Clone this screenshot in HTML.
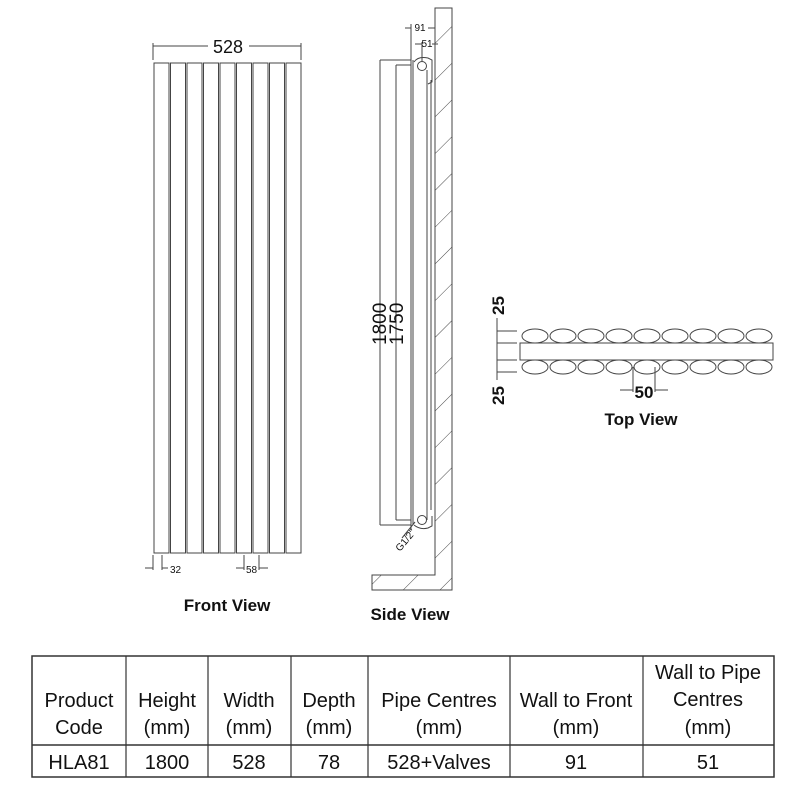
<!DOCTYPE html>
<html><head><meta charset="utf-8"><style>html,body{margin:0;padding:0;background:#fff}svg{display:block}</style></head>
<body>
<svg width="800" height="800" viewBox="0 0 800 800" xmlns="http://www.w3.org/2000/svg" font-family="Liberation Sans, Arial, sans-serif">
<defs>
<pattern id="h" width="26" height="26" patternUnits="userSpaceOnUse" patternTransform="rotate(45)">
<line x1="0" y1="0" x2="0" y2="26" stroke="#333" stroke-width="0.9"/>
</pattern>
</defs>
<g fill="none" stroke="#444" stroke-width="1">
<!-- Front view -->
<line x1="153" y1="43" x2="153" y2="60"/><line x1="301" y1="43" x2="301" y2="60"/>
<line x1="153" y1="46" x2="208" y2="46"/><line x1="249" y1="46" x2="301" y2="46"/>
<g>
<rect x="154" y="63" width="15" height="490" fill="#fff"/>
<rect x="170.5" y="63" width="15" height="490" fill="#fff"/>
<rect x="187" y="63" width="15" height="490" fill="#fff"/>
<rect x="203.5" y="63" width="15" height="490" fill="#fff"/>
<rect x="220" y="63" width="15" height="490" fill="#fff"/>
<rect x="236.5" y="63" width="15" height="490" fill="#fff"/>
<rect x="253" y="63" width="15" height="490" fill="#fff"/>
<rect x="269.5" y="63" width="15" height="490" fill="#fff"/>
<rect x="286" y="63" width="15" height="490" fill="#fff"/>
</g>
<line x1="153" y1="555" x2="153" y2="570"/><line x1="162" y1="555" x2="162" y2="570"/>
<line x1="145" y1="568" x2="153" y2="568"/><line x1="162" y1="568" x2="168" y2="568"/>
<line x1="244" y1="555" x2="244" y2="570"/><line x1="259" y1="555" x2="259" y2="570"/>
<line x1="236" y1="568" x2="244" y2="568"/><line x1="259" y1="568" x2="268" y2="568"/>
<!-- Side view wall -->
<path d="M435 8 H452 V590 H372 V575 H435 Z" fill="url(#h)"/>
<path d="M435 8 H452 V590 H372 V575 H435 Z"/>
<!-- radiator body -->
<line x1="380" y1="60" x2="380" y2="525"/>
<line x1="380" y1="60" x2="411" y2="60"/><line x1="380" y1="525" x2="411" y2="525"/>
<line x1="396" y1="65" x2="396" y2="520"/>
<line x1="396" y1="65" x2="411" y2="65"/><line x1="396" y1="520" x2="411" y2="520"/>
<line x1="411" y1="55" x2="411" y2="530"/>
<line x1="413" y1="60" x2="413" y2="525"/>
<line x1="427" y1="70" x2="427" y2="520"/>
<line x1="431" y1="80" x2="431" y2="510"/>
<line x1="435" y1="8" x2="435" y2="575"/>
<circle cx="422" cy="66" r="4.5"/>
<circle cx="422" cy="520" r="4.5"/>
<path d="M414 62 Q418 56 428 58 L432 60 V82 L428 84"/>
<path d="M414 525 Q420 530 428 528 L432 526 V516"/>
<line x1="411" y1="24" x2="411" y2="55"/>
<line x1="422" y1="42" x2="422" y2="62"/>
<line x1="405" y1="28" x2="411" y2="28"/><line x1="428" y1="28" x2="435" y2="28"/>
<line x1="415" y1="44" x2="422" y2="44"/><line x1="432" y1="44" x2="438" y2="44"/>
<line x1="415" y1="522" x2="402" y2="538"/>
<!-- Top view -->
<rect x="520" y="343" width="253" height="17" fill="#fff"/>
<g>
<ellipse cx="535" cy="336" rx="13" ry="7"/><ellipse cx="563" cy="336" rx="13" ry="7"/><ellipse cx="591" cy="336" rx="13" ry="7"/><ellipse cx="619" cy="336" rx="13" ry="7"/><ellipse cx="647" cy="336" rx="13" ry="7"/><ellipse cx="675" cy="336" rx="13" ry="7"/><ellipse cx="703" cy="336" rx="13" ry="7"/><ellipse cx="731" cy="336" rx="13" ry="7"/><ellipse cx="759" cy="336" rx="13" ry="7"/>
<ellipse cx="535" cy="367" rx="13" ry="7"/><ellipse cx="563" cy="367" rx="13" ry="7"/><ellipse cx="591" cy="367" rx="13" ry="7"/><ellipse cx="619" cy="367" rx="13" ry="7"/><ellipse cx="647" cy="367" rx="13" ry="7"/><ellipse cx="675" cy="367" rx="13" ry="7"/><ellipse cx="703" cy="367" rx="13" ry="7"/><ellipse cx="731" cy="367" rx="13" ry="7"/><ellipse cx="759" cy="367" rx="13" ry="7"/>
</g>
<line x1="497" y1="331" x2="517" y2="331"/><line x1="497" y1="343" x2="517" y2="343"/>
<line x1="497" y1="360" x2="517" y2="360"/><line x1="497" y1="372" x2="517" y2="372"/>
<line x1="497" y1="318" x2="497" y2="380"/>
<line x1="633" y1="367" x2="633" y2="392"/><line x1="655" y1="367" x2="655" y2="392"/>
<line x1="620" y1="390" x2="633" y2="390"/><line x1="655" y1="390" x2="668" y2="390"/>
<!-- Table -->
<rect x="32" y="656" width="742" height="121" stroke="#333" stroke-width="1.5"/>
<line x1="32" y1="745" x2="774" y2="745" stroke="#333" stroke-width="1.5"/>
<g stroke="#333" stroke-width="1.2">
<line x1="126" y1="656" x2="126" y2="777"/><line x1="208" y1="656" x2="208" y2="777"/>
<line x1="291" y1="656" x2="291" y2="777"/><line x1="368" y1="656" x2="368" y2="777"/>
<line x1="510" y1="656" x2="510" y2="777"/><line x1="643" y1="656" x2="643" y2="777"/>
</g>
</g>
<g fill="#111">
<text x="228" y="53" font-size="18" text-anchor="middle">528</text>
<text x="170" y="573" font-size="10">32</text>
<text x="246" y="573" font-size="10">58</text>
<text x="227" y="611" font-size="17" font-weight="bold" text-anchor="middle">Front View</text>
<text x="410" y="620" font-size="17" font-weight="bold" text-anchor="middle">Side View</text>
<text x="641" y="425" font-size="17" font-weight="bold" text-anchor="middle">Top View</text>
<text x="420" y="31" font-size="10" text-anchor="middle">91</text>
<text x="427" y="47" font-size="10" text-anchor="middle">51</text>
<text transform="translate(386,345) rotate(-90)" font-size="19">1800</text>
<text transform="translate(403,345) rotate(-90)" font-size="19">1750</text>
<text transform="translate(400,552) rotate(-50)" font-size="10">G1/2"</text>
<text transform="translate(504,315) rotate(-90)" font-size="17" font-weight="bold">25</text>
<text transform="translate(504,405) rotate(-90)" font-size="17" font-weight="bold">25</text>
<text x="644" y="398" font-size="17" font-weight="bold" text-anchor="middle">50</text>
<g font-size="20" text-anchor="middle">
<text x="79" y="707">Product</text><text x="79" y="734">Code</text>
<text x="167" y="707">Height</text><text x="167" y="734">(mm)</text>
<text x="249" y="707">Width</text><text x="249" y="734">(mm)</text>
<text x="329" y="707">Depth</text><text x="329" y="734">(mm)</text>
<text x="439" y="707">Pipe Centres</text><text x="439" y="734">(mm)</text>
<text x="576" y="707">Wall to Front</text><text x="576" y="734">(mm)</text>
<text x="708" y="679">Wall to Pipe</text><text x="708" y="706">Centres</text><text x="708" y="734">(mm)</text>
<text x="79" y="769">HLA81</text><text x="167" y="769">1800</text><text x="249" y="769">528</text>
<text x="329" y="769">78</text><text x="439" y="769">528+Valves</text><text x="576" y="769">91</text><text x="708" y="769">51</text>
</g>
</g>
</svg>
</body></html>
